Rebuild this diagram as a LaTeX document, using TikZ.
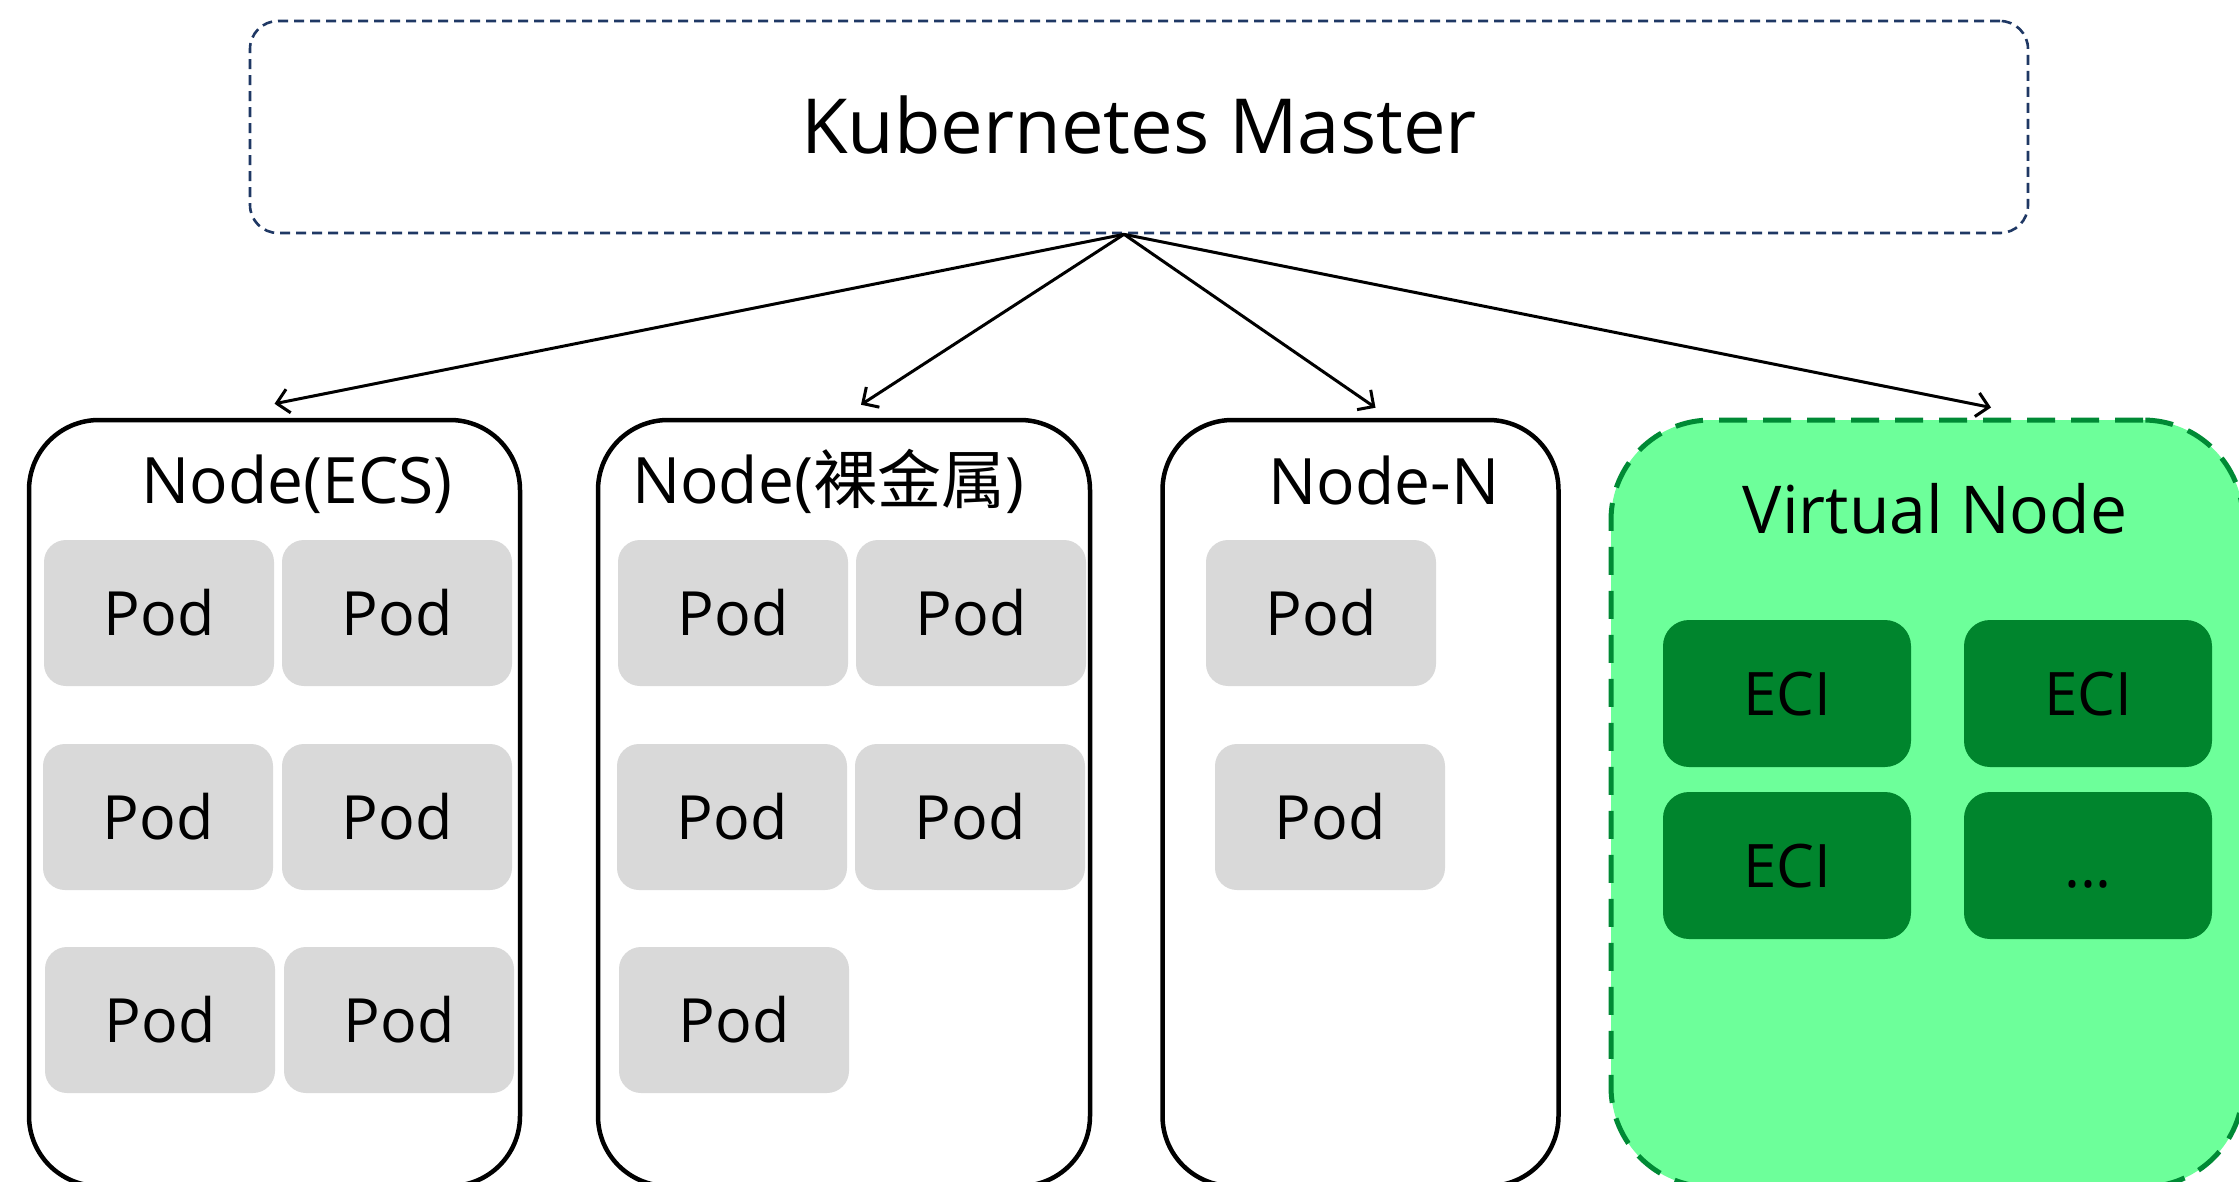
\documentclass[tikz,border=0pt]{standalone}
\usepackage{fontspec}
\setmainfont{Open Sans}
\newfontfamily\cjk{Noto Sans CJK SC}
\usetikzlibrary{
  arrows.meta,
}

\definecolor{masterblue}{HTML}{1F3864}
\definecolor{podgray}{HTML}{D9D9D9}
\definecolor{vnfill}{HTML}{6DFF9A}
\definecolor{vnedge}{HTML}{008A35}
\definecolor{ecigreen}{HTML}{00852D}

\begin{document}
\begin{tikzpicture}[x=1pt,y=-1pt]
\tikzset{
  master/.style={
    draw=masterblue, line width=2.6pt, dash pattern=on 10pt off 6pt,
    rounded corners=28pt, minimum width=1778pt, minimum height=212pt,
    inner sep=0pt, font=\fontsize{76}{80}\selectfont,
    text height=54pt, text depth=0pt,
  },
  worker/.style={
    draw, line width=4.5pt, rounded corners=70pt,
    minimum width=#1, minimum height=766pt, inner sep=0pt,
  },
  vnode/.style={
    fill=vnfill, draw=vnedge, line width=5pt, dash pattern=on 28pt off 16pt,
    rounded corners=100pt, minimum width=632pt, minimum height=767pt,
    inner sep=0pt,
  },
  title/.style={
    anchor=base, font=\fontsize{64}{70}\selectfont,
  },
  pod/.style={
    fill=podgray, rounded corners=22pt, minimum width=230pt,
    minimum height=146pt, inner sep=0pt, font=\fontsize{61}{68}\selectfont,
    text height=44pt, text depth=0pt,
  },
  eci/.style={
    fill=ecigreen, rounded corners=26pt, minimum width=248pt,
    minimum height=147pt, inner sep=0pt, font=\fontsize{60}{66}\selectfont,
    text height=43pt, text depth=0pt,
  },
  conn/.style={
    -{Straight Barb[length=12pt,width=24pt]}, line width=3pt,
  },
}

\fill[white] (0,0) rectangle (2239,1182);
\useasboundingbox (0,0) rectangle (2239,1182);
\clip (0,0) rectangle (2239,1182);

\node[master] (master) at (1139,127) {Kubernetes Master};

\node[worker=491pt] (ecs) at (274.5,803) {};
\node[worker=492pt] (bm) at (844,803) {};
\node[worker=396pt] (nn) at (1360.5,803) {};
\node[vnode] (vn) at (1927,803.5) {};

\node[title] (ecs-title) at (297,503) {Node(ECS)};
\node[title] (bm-title) at (828,503) {Node({\cjk 裸金属})};
\node[title] (nn-title) at (1384,504) {Node-N};
\node[title, font=\fontsize{66}{72}\selectfont] (vn-title) at (1935,533) {Virtual Node};

\foreach \x/\y [count=\k] in {159/613, 397/613, 158/817, 397/817, 160/1020, 399/1020}
  \node[pod] (ecs-pod\k) at (\x,\y) {Pod};
\foreach \x/\y [count=\k] in {733/613, 971/613, 732/817, 970/817, 734/1020}
  \node[pod] (bm-pod\k) at (\x,\y) {Pod};
\foreach \x/\y [count=\k] in {1321/613, 1330/817}
  \node[pod] (nn-pod\k) at (\x,\y) {Pod};

\foreach \x/\y [count=\k] in {1787/693.5, 2088/693.5, 1787/865.5}
  \node[eci] (eci\k) at (\x,\y) {ECI};
\node[eci] (eci4) at (2088,865.5) {...};

\draw[conn] ([xshift=-15pt]master.south) -- ([yshift=14pt]ecs.north);
\draw[conn] ([xshift=-15pt]master.south) -- ([xshift=17pt,yshift=13pt]bm.north);
\draw[conn] ([xshift=-15pt]master.south) -- ([xshift=15pt,yshift=10pt]nn.north);
\draw[conn] ([xshift=-15pt]master.south) -- ([xshift=64pt,yshift=10pt]vn.north);
\end{tikzpicture}
\end{document}
